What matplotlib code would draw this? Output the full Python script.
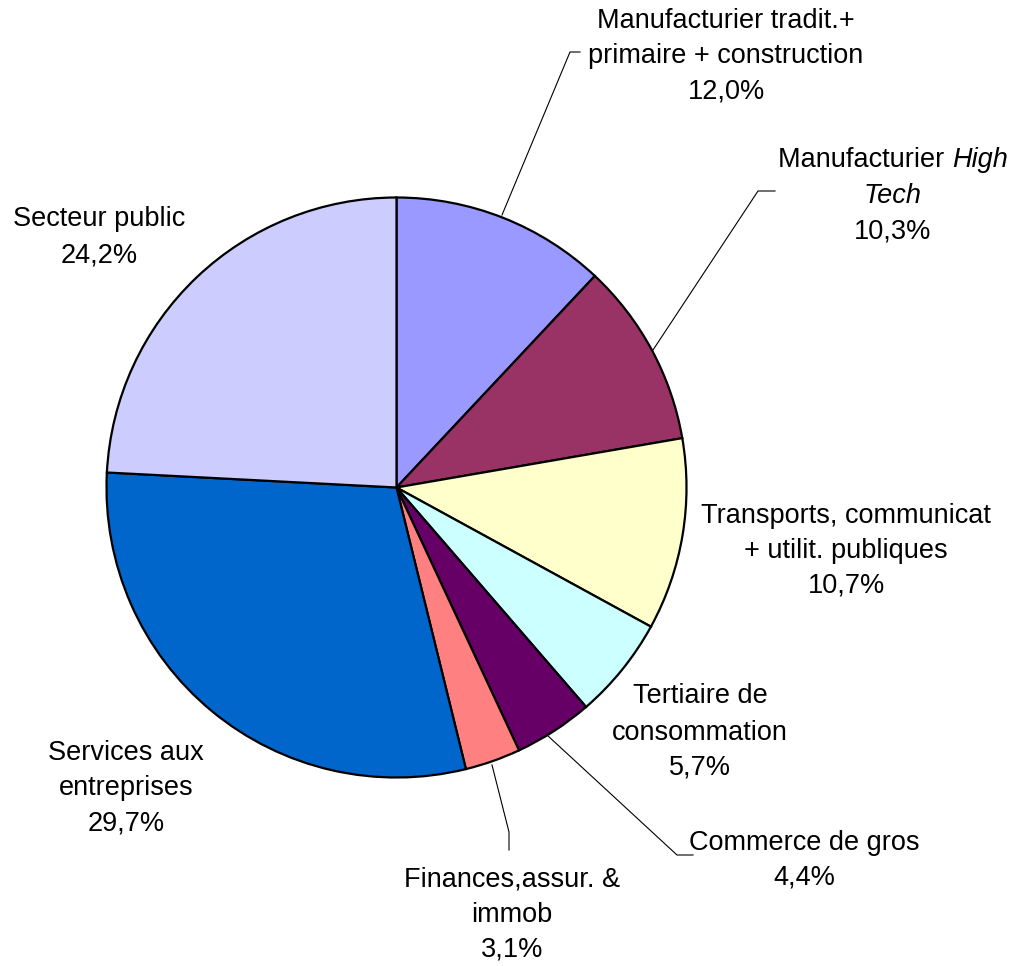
import matplotlib.pyplot as plt

# parts du total (%) - dans le sens horaire depuis midi
secteurs = ['Manufacturier tradit.+\nprimaire + construction',
            'Manufacturier High\nTech',
            'Transports, communicat\n+ utilit. publiques',
            'Tertiaire de\nconsommation',
            'Commerce de gros',
            'Finances,assur. &\nimmob',
            'Services aux\nentreprises',
            'Secteur public']
parts = [12.0, 10.3, 10.7, 5.7, 4.4, 3.1, 29.7, 24.2]
couleurs = ['#9999FF', '#993366', '#FFFFCC', '#CCFFFF', '#660066',
            '#FF8080', '#0066CC', '#CCCCFF']

W, H = 1014, 966
plt.rcParams['font.family'] = ['Liberation Sans', 'DejaVu Sans']

fig = plt.figure(figsize=(W / 100, H / 100), dpi=100)
ax = fig.add_axes([0, 0, 1, 1])
ax.set_xlim(0, W)
ax.set_ylim(0, H)
ax.axis('off')

cx, cy, rayon = 396.5, H - 487.5, 290
ax.pie(parts, colors=couleurs, startangle=90, counterclock=False,
       center=(cx, cy), radius=rayon, frame=True,
       wedgeprops=dict(edgecolor='black', linewidth=1.6))
ax.set_xlim(0, W)
ax.set_ylim(0, H)
ax.set_aspect('equal')
ax.axis('off')

# position (x centre, lignes de base) des etiquettes, en pixels depuis le haut
pos = [(726, [28, 63, 98]),
       (893, [167, 203, 238]),
       (846, [523, 558, 592]),
       (700, [703, 740, 775]),
       (804, [850, 885]),
       (512, [887, 922, 957]),
       (126, [760, 795, 830]),
       (99, [226, 262])]

fs = 19.5
for i in range(len(parts)):
    lignes = secteurs[i].split('\n')
    lignes.append(('%.1f%%' % parts[i]).replace('.', ','))
    x, ys = pos[i]
    for j in range(len(lignes)):
        txt = lignes[j]
        if i == 1 and j == 0:
            # "High" en italique
            t = ax.text(x, H - ys[j], 'Manufacturier ', fontsize=fs, ha='left', va='baseline')
            fig.canvas.draw()
            w1 = t.get_window_extent().width
            t2 = ax.text(x, H - ys[j], 'High', fontsize=fs, ha='left', va='baseline', style='italic')
            w2 = t2.get_window_extent().width
            t.set_x(x - (w1 + w2) / 2)
            t2.set_x(x - (w1 + w2) / 2 + w1)
        elif i == 1 and j == 1:
            ax.text(x, H - ys[j], txt, fontsize=fs, ha='center', va='baseline', style='italic')
        else:
            ax.text(x, H - ys[j], txt, fontsize=fs, ha='center', va='baseline')

# lignes de rappel
rappels = [[(502, 215), (570, 52), (580, 52)],
           [(653, 350), (758, 191), (775, 191)],
           [(547, 735), (677, 855), (693, 855)],
           [(492, 765), (509, 832), (509, 850)]]
for r in rappels:
    ax.plot([p[0] for p in r], [H - p[1] for p in r], color='black', linewidth=0.8)

fig.savefig('out.png', dpi=100)
